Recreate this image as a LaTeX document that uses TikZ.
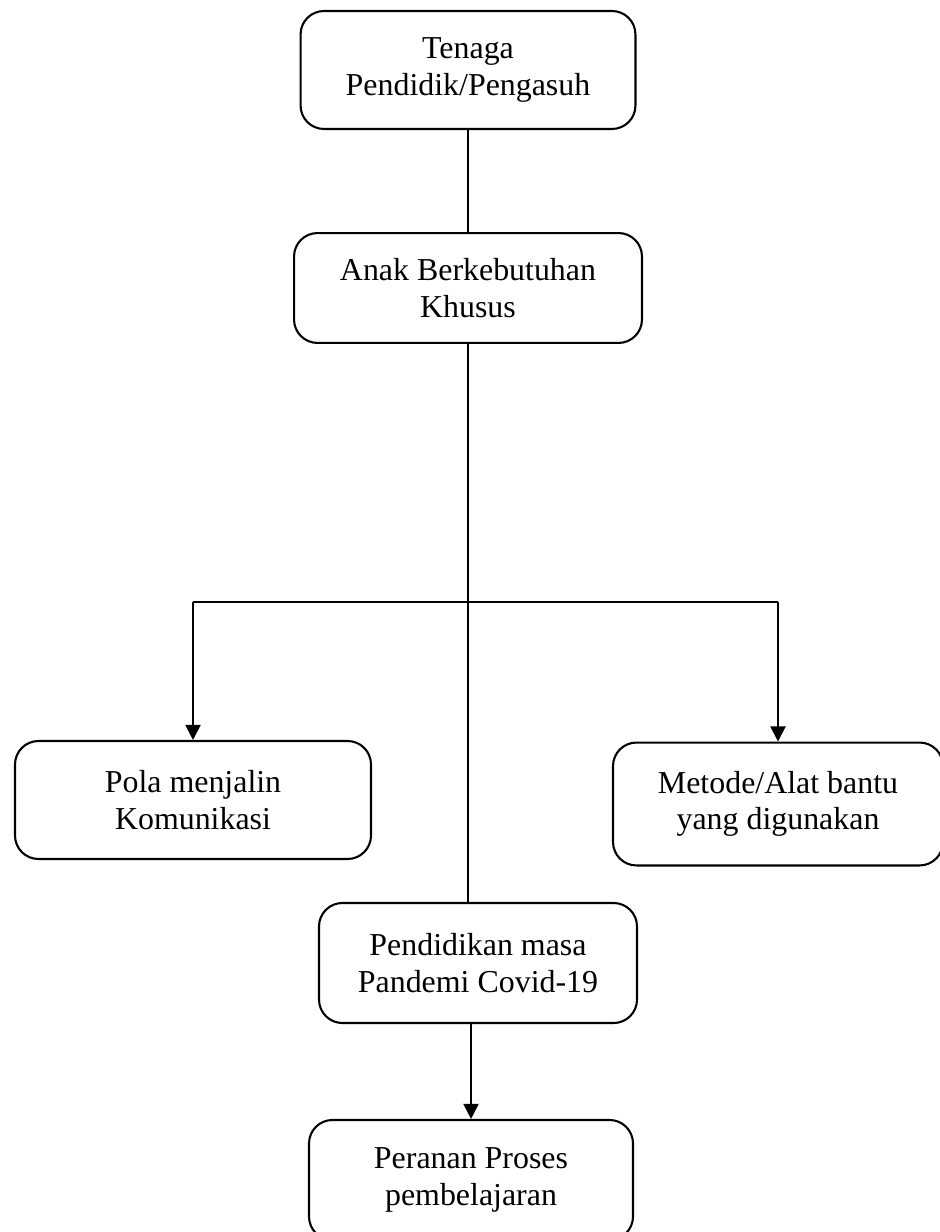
\documentclass[tikz,border=0pt]{standalone}
\usepackage{fontspec}
\setmainfont{Liberation Serif}
\usetikzlibrary{arrows.meta,positioning}

\begin{document}
\begin{tikzpicture}[
  x=0.384pt, y=-0.384pt,
  font=\fontsize{12.25}{13.9}\selectfont,
  >={Triangle[length=5.8pt, width=5.8pt]},
  box/.style={rectangle, rounded corners=9pt, draw=black, line width=0.8pt,
              align=center, inner sep=0pt},
  link/.style={line width=0.75pt, draw=black},
]

\clip (0,0) rectangle (940,1232);

\node[box, minimum width=128.6pt, minimum height=45.3pt] (tenaga)  at (468,70)   {Tenaga\\Pendidik/Pengasuh};
\node[box, minimum width=133.6pt, minimum height=42.2pt] (abk)     at (468,288)  {Anak Berkebutuhan\\Khusus};
\node[box, minimum width=136.7pt, minimum height=45.3pt] (pola)    at (193,800)  {Pola menjalin\\Komunikasi};
\node[box, minimum width=126.7pt, minimum height=47.2pt] (metode)  at (778,804)  {Metode/Alat bantu\\yang digunakan};
\node[box, minimum width=122.1pt, minimum height=46.1pt] (pandemi) at (478,963)  {Pendidikan masa\\Pandemi Covid-19};
\node[box, minimum width=124.4pt, minimum height=46.1pt] (peranan) at (471,1180) {Peranan Proses\\pembelajaran};

\coordinate (kiri)  at (193,602);
\coordinate (kanan) at (778,602);

\draw[link] (tenaga) -- (abk);
\draw[link] (abk.south) -- (abk.south |- pandemi.north);
\draw[link] (kiri) -- (kanan);
\draw[link, ->] (kiri) -- (pola.north);
\draw[link, ->] (kanan) -- (metode.north);
\draw[link, ->] (peranan.north |- pandemi.south) -- (peranan.north);

\end{tikzpicture}
\end{document}
